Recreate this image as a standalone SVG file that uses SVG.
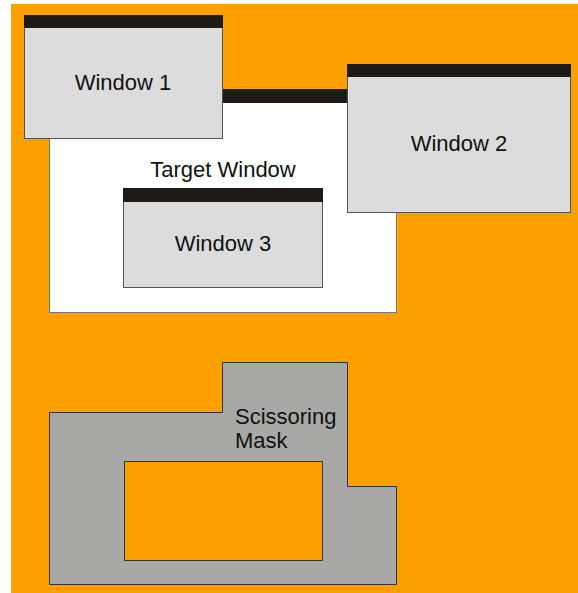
<svg xmlns="http://www.w3.org/2000/svg" width="578" height="593" viewBox="0 0 578 593">
<style>
.win{fill:#dcdcdc;stroke:#555;stroke-width:1}
.bar{fill:#1e1a18}
.lbl{font-family:"Liberation Sans",Arial,sans-serif;font-size:22px;fill:#111}
</style>
<rect x="0" y="0" width="578" height="593" fill="#fff"/>
<rect x="11" y="4" width="567" height="589" fill="#fca000"/>
<g id="target">
<rect x="49.5" y="89.5" width="347" height="223" fill="#fff" stroke="#777"/>
<rect x="49" y="89" width="348" height="14" class="bar"/>
<text x="223" y="177" text-anchor="middle" class="lbl">Target Window</text>
</g>
<g id="window3">
<rect x="123.5" y="188.5" width="199" height="99" class="win"/>
<rect x="123" y="188" width="200" height="14" class="bar"/>
<text x="223" y="251" text-anchor="middle" class="lbl">Window 3</text>
</g>
<g id="window1">
<rect x="24.5" y="15.5" width="198" height="123" class="win"/>
<rect x="24" y="15" width="199" height="13" class="bar"/>
<text x="123" y="90" text-anchor="middle" class="lbl">Window 1</text>
</g>
<g id="window2">
<rect x="347.5" y="64.5" width="223" height="148" class="win"/>
<rect x="347" y="64" width="224" height="13" class="bar"/>
<text x="459" y="151" text-anchor="middle" class="lbl">Window 2</text>
</g>
<g id="mask">
<path d="M49.5 412.5H222.5V362.5H347.5V486.5H396.5V584.5H49.5Z M124.5 461.5V560.5H322.5V461.5Z" fill="#a8a8a6" fill-rule="evenodd" stroke="#333"/>
<text class="lbl"><tspan x="235" y="424">Scissoring</tspan><tspan x="235" y="448">Mask</tspan></text>
</g>
<g id="connectors"/>
</svg>
